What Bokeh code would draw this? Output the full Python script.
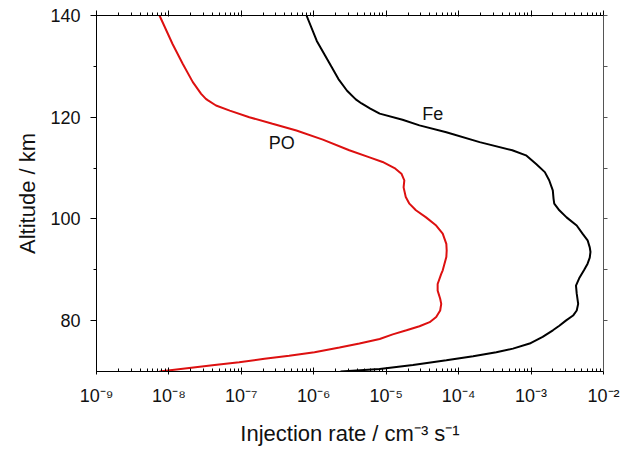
from bokeh.plotting import figure
from bokeh.models import Range1d, FixedTicker, LogAxis, LinearAxis, Label, CustomJSTickFormatter
from bokeh.embed import file_html
from bokeh.resources import INLINE

# ---- data ----
altitude_fe = [140, 135, 130, 127.5, 125.2, 123.5, 122.7, 121.7, 120.7, 119.5, 118.4, 117.05,
               115.1, 113.5, 112.5, 110.8, 109.2, 107.6, 105.6, 104, 103, 101.7, 100.3, 98.7,
               97.1, 95.8, 94.4, 93.5, 92.4, 91.2, 89.9, 88.5, 86.9, 85.3, 83.3, 82.0, 81.0,
               80.0, 79.0, 78.1, 76.8, 75.5, 74.5, 73.8, 73.0, 72.2, 71.3, 70.5, 70.0]
rate_fe = [7.94e-7, 1.10e-6, 1.74e-6, 2.19e-6, 2.88e-6, 3.80e-6, 4.57e-6, 6.03e-6, 8.13e-6,
           1.68e-5, 2.88e-5, 6.76e-5, 1.95e-4, 5.50e-4, 8.51e-4, 1.175e-3, 1.549e-3, 1.778e-3,
           1.995e-3, 2.042e-3, 2.089e-3, 2.455e-3, 3.09e-3, 4.266e-3, 5.13e-3, 6.03e-3,
           6.46e-3, 6.61e-3, 6.46e-3, 6.03e-3, 5.37e-3, 4.68e-3, 4.17e-3, 4.27e-3, 4.47e-3,
           4.27e-3, 3.80e-3, 3.02e-3, 2.455e-3, 2.00e-3, 1.445e-3, 9.55e-4, 5.62e-4, 3.31e-4,
           1.585e-4, 6.76e-5, 2.34e-5, 8.13e-6, 2.34e-6]

altitude_po = [140, 134.4, 130.5, 126.9, 124.6, 123.6, 123.3, 122.3, 121.3, 120.0, 118.7,
               117.4, 115.6, 113.5, 112.1, 111.2, 110.0, 108.9, 107.6, 106.2, 104.3, 103,
               101.7, 100.3, 98.7, 97.1, 95.1, 93.8, 92.5, 89.9, 89.2, 87.2, 85.9, 84.3, 83.3,
               82.0, 80.7, 79.7, 78.9, 78.1, 77.3, 76.4, 75.5, 74.7, 73.8, 73.1, 72.5, 71.8,
               71.3, 70.7, 70.0]
rate_po = [7.41e-9, 1.122e-8, 1.549e-8, 2.138e-8, 2.786e-8, 3.236e-8, 3.467e-8, 4.467e-8,
           6.918e-8, 1.288e-7, 2.692e-7, 5.754e-7, 1.334e-6, 3.09e-6, 5.888e-6, 8.913e-6,
           1.303e-5, 1.622e-5, 1.778e-5, 1.738e-5, 1.862e-5, 2.089e-5, 2.570e-5, 3.548e-5,
           4.898e-5, 6.026e-5, 6.761e-5, 6.84e-5, 6.76e-5, 6.03e-5, 5.75e-5, 5.13e-5, 5.13e-5,
           5.56e-5, 5.75e-5, 5.56e-5, 4.90e-5, 3.98e-5, 2.88e-5, 1.905e-5, 1.230e-5, 8.13e-6,
           4.27e-6, 2.265e-6, 1.023e-6, 4.57e-7, 2.089e-7, 9.33e-8, 4.27e-8, 1.905e-8, 7.41e-9]

x_major_ticks = [1e-9, 1e-8, 1e-7, 1e-6, 1e-5, 1e-4, 1e-3, 1e-2]
x_minor_ticks = [m * 10.0 ** e for e in range(-9, -2) for m in range(2, 10)]
y_major_ticks = [80, 100, 120, 140]
y_minor_ticks = [90, 110, 130]

series_labels = ["Fe", "PO"]
label_x = [4.4e-5, 3.6e-7]
label_y = [120.7, 115.0]

FONT = "Liberation Sans"

p = figure(width=624, height=450, x_axis_type="log",
           x_range=Range1d(1e-9, 1e-2), y_range=Range1d(70, 140),
           output_backend="svg", toolbar_location=None,
           min_border_left=96, min_border_right=21, min_border_top=15, min_border_bottom=79)
p.outline_line_color = None
p.grid.visible = False
p.background_fill_color = "white"
p.border_fill_color = "white"

p.line(rate_po, altitude_po, line_color="#dd1010", line_width=2)
p.line(rate_fe, altitude_fe, line_color="black", line_width=2)

fmt = CustomJSTickFormatter(code="""
const sup = {'-':'\u207b','0':'\u2070','1':'\u00b9','2':'\u00b2','3':'\u00b3','4':'\u2074',
             '5':'\u2075','6':'\u2076','7':'\u2077','8':'\u2078','9':'\u2079'};
const e = String(Math.round(Math.log10(tick)));
let s = '';
for (const c of e) s += sup[c];
return '10' + s;
""")
blank = CustomJSTickFormatter(code="return '';")

xa = p.xaxis[0]
xa.ticker = FixedTicker(ticks=x_major_ticks, minor_ticks=x_minor_ticks)
xa.formatter = fmt
xa.axis_label = "Injection rate / cm\u207b\u00b3 s\u207b\u00b9"
xa.major_tick_in = 4
xa.major_tick_out = 3
xa.minor_tick_in = 3
xa.minor_tick_out = 0
xa.major_label_standoff = 11
xa.axis_label_standoff = 12

ya = p.yaxis[0]
ya.ticker = FixedTicker(ticks=y_major_ticks, minor_ticks=y_minor_ticks)
ya.axis_label = "Altitude / km"
ya.major_tick_in = 0
ya.major_tick_out = 6
ya.minor_tick_in = 0
ya.minor_tick_out = 3
ya.major_label_standoff = 10
ya.axis_label_standoff = 7

for ax in (xa, ya):
    ax.axis_line_color = "black"
    ax.major_tick_line_color = "black"
    ax.minor_tick_line_color = "black"
    ax.major_label_text_font = FONT
    ax.major_label_text_font_size = "18px"
    ax.major_label_text_color = "#111111"
    ax.axis_label_text_font = FONT
    ax.axis_label_text_font_size = "22px"
    ax.axis_label_text_font_style = "normal"
    ax.axis_label_text_color = "#111111"

top = LogAxis(ticker=FixedTicker(ticks=x_major_ticks, minor_ticks=x_minor_ticks),
              formatter=blank,
              major_label_text_font_size="1px", major_label_standoff=0,
              major_tick_in=1, major_tick_out=5, minor_tick_in=0, minor_tick_out=3,
              axis_line_color="black", major_tick_line_color="black",
              minor_tick_line_color="black")
p.add_layout(top, "above")

right = LinearAxis(ticker=FixedTicker(ticks=y_major_ticks, minor_ticks=y_minor_ticks),
                   formatter=blank,
                   major_label_text_font_size="1px", major_label_standoff=0,
                   major_tick_in=0, major_tick_out=4, minor_tick_in=0, minor_tick_out=4,
                   axis_line_color="#555555", major_tick_line_color="#555555",
                   minor_tick_line_color="#555555")
p.add_layout(right, "right")

for t, lx, ly in zip(series_labels, label_x, label_y):
    p.add_layout(Label(x=lx, y=ly, text=t, text_font=FONT, text_font_size="18px",
                       text_color="#111111", text_align="center", text_baseline="middle"))

open("out.html", "w").write(file_html(p, INLINE))
